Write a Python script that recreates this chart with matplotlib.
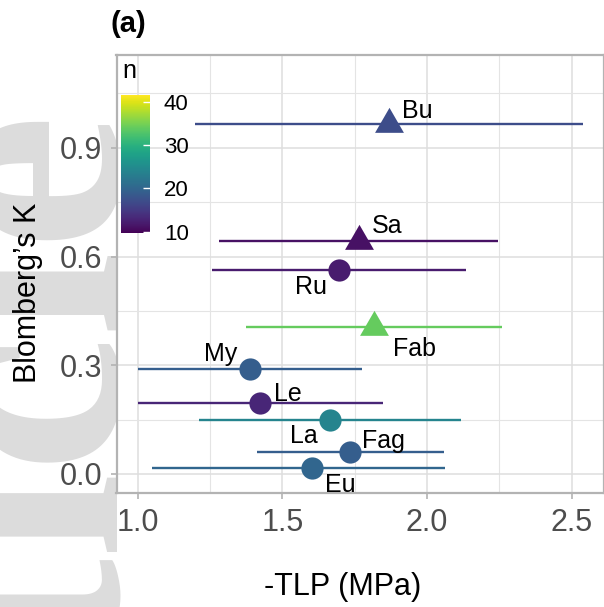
import matplotlib
import matplotlib.pyplot as plt
import numpy as np
from matplotlib.ticker import MultipleLocator

matplotlib.use("Agg")

plt.rcParams["font.family"] = ["Liberation Sans", "DejaVu Sans"]

# data
species = ["Bu", "Sa", "Ru", "Fab", "My", "Le", "La", "Fag", "Eu"]
tlp = [1.868, 1.765, 1.697, 1.815, 1.389, 1.424, 1.664, 1.735, 1.603]
tlp_low = [1.197, 1.281, 1.257, 1.374, 1.0, 1.0, 1.212, 1.412, 1.048]
tlp_high = [2.541, 2.247, 2.135, 2.258, 1.774, 1.847, 2.118, 2.059, 2.062]
blomberg_k = [0.967, 0.644, 0.563, 0.406, 0.291, 0.196, 0.150, 0.061, 0.016]
n = [17, 11, 12, 34, 19, 13, 24, 19, 20]
shape = ["^", "^", "o", "^", "o", "o", "o", "o", "o"]

# repelled label positions (data units)
label_x = [1.968, 1.863, 1.599, 1.956, 1.286, 1.518, 1.575, 1.850, 1.699]
label_y = [1.008, 0.690, 0.522, 0.351, 0.337, 0.228, 0.113, 0.098, -0.024]

n_min, n_max = 9.6, 41.5
cmap = plt.get_cmap("viridis")
norm = matplotlib.colors.Normalize(vmin=n_min, vmax=n_max)

W, H = 604, 607
fig = plt.figure(figsize=(W / 100, H / 100), dpi=100)


def fx(px):
    return px / W


def fy(py):
    return 1 - py / H


# watermark in the left margin
fig.text(fx(116), fy(110), "Article", rotation=90, ha="right", va="baseline",
         rotation_mode="anchor", fontsize=222, family="Liberation Serif",
         fontweight="bold", color="#dcdcdc", zorder=-1)

ax = fig.add_axes([fx(116.5), fy(493.3), fx(W) - fx(116.5), fy(55) - fy(493.3)])
ax.set_xlim(0.926, 2.612)
ax.set_ylim(-0.0533, 1.156)

ax.xaxis.set_major_locator(MultipleLocator(0.5))
ax.xaxis.set_minor_locator(MultipleLocator(0.25))
ax.yaxis.set_major_locator(MultipleLocator(0.3))
ax.yaxis.set_minor_locator(MultipleLocator(0.15))
ax.xaxis.set_major_formatter(matplotlib.ticker.FormatStrFormatter("%.1f"))
ax.yaxis.set_major_formatter(matplotlib.ticker.FormatStrFormatter("%.1f"))
ax.grid(which="major", color="#dedede", linewidth=1.1)
ax.grid(which="minor", color="#e4e4e4", linewidth=0.8)
ax.set_axisbelow(True)
for s in ax.spines.values():
    s.set_color("#b3b3b3")
    s.set_linewidth(1.6)
ax.tick_params(which="major", length=4.5, width=1.2, color="#b3b3b3",
               labelsize=22, labelcolor="#4d4d4d")
ax.tick_params(axis="x", pad=6)
ax.tick_params(axis="y", pad=6)
ax.tick_params(which="minor", length=0)

for i in range(len(species)):
    c = cmap(norm(n[i]))
    ax.plot([tlp_low[i], tlp_high[i]], [blomberg_k[i]] * 2, color=c,
            linewidth=1.7, solid_capstyle="butt", zorder=2)
    if shape[i] == "^":
        ax.plot(tlp[i], blomberg_k[i], marker=(3, 0, 0), markersize=24,
                color=c, markeredgewidth=0, zorder=3)
    else:
        ax.plot(tlp[i], blomberg_k[i], marker="o", markersize=16,
                color=c, markeredgewidth=0, zorder=3)
    ax.text(label_x[i], label_y[i], species[i], fontsize=18, ha="center",
            va="center_baseline", color="black", zorder=4)

fig.text(fx(343), fy(587), "-TLP (MPa)", fontsize=22, ha="center", va="center")
fig.text(fx(28), fy(293), "Blomberg\u2019s K", fontsize=22, rotation=90,
         ha="center", va="center")
fig.text(fx(128), fy(24), "(a)", fontsize=21, fontweight="bold",
         ha="center", va="center")

# colour bar legend
cax = fig.add_axes([fx(121), fy(233.3), fx(150) - fx(121), fy(95) - fy(233.3)])
cb = matplotlib.colorbar.ColorbarBase(cax, cmap=cmap, norm=norm,
                                      ticks=[10, 20, 30, 40])
cb.outline.set_visible(False)
cax.tick_params(length=5, width=1, color="white", direction="in",
                labelsize=16, pad=10)
fig.text(fx(129.5), fy(70.5), "n", fontsize=18, ha="center", va="center")

plt.savefig("out.png", dpi=100)
plt.close()
